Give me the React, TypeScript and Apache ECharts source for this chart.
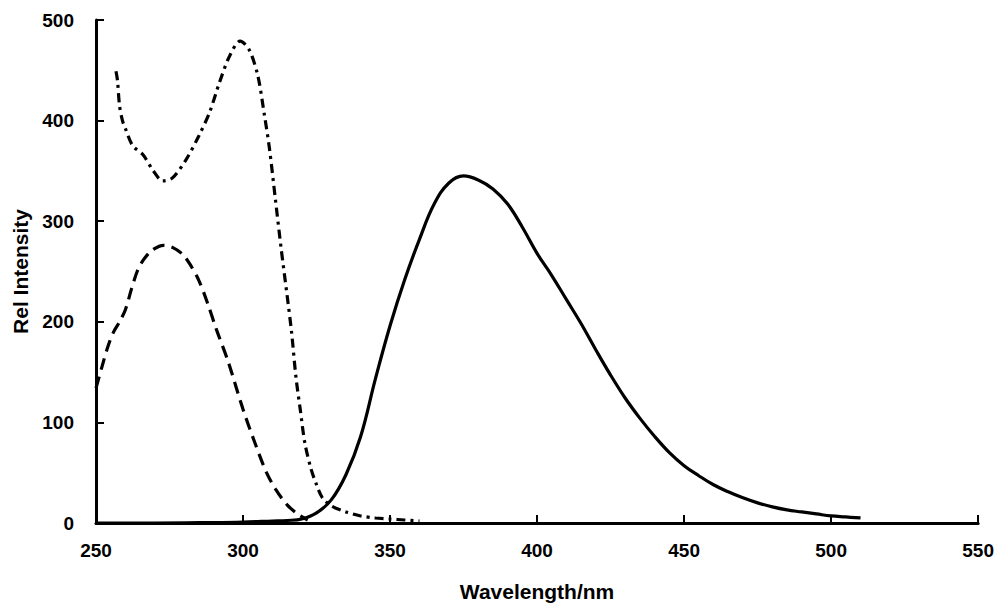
import React, { useEffect, useRef } from "react";
import * as echarts from "echarts";

// Emission (solid)
const solidX = [250, 270, 290, 300, 310, 315, 320, 325, 330, 335, 340, 345, 350, 355, 360, 365, 370, 375, 380, 385, 390, 395, 400, 405, 410, 415, 420, 425, 430, 435, 440, 445, 450, 455, 460, 465, 470, 475, 480, 485, 490, 495, 500, 505, 510];
const solidY = [0, 0, 0.5, 1, 2, 2.5, 4, 10, 23, 48, 86, 143, 196, 242, 282, 317, 338, 345, 341, 332, 317, 294, 268, 246, 222, 198, 172, 147, 124, 104, 86, 70, 57, 47, 38, 31, 25, 20, 16, 13, 11, 9, 7, 6, 5];

// Excitation (long dash)
const dashX = [250, 252, 254, 256, 258, 260, 262, 264, 266, 269, 273, 276, 279.5, 282, 285, 288, 291, 295, 300, 304, 308, 311, 315, 319, 322];
const dashY = [134, 155, 175, 190, 200, 212, 232, 250, 261, 271, 276, 274, 267, 257, 241, 218, 192, 160, 113, 80, 50, 34, 18, 8, 3];

// Excitation (dash-dot)
const dotX = [256.8, 257.3, 258, 259, 260, 262.5, 266, 269.5, 272.7, 276, 280.8, 285, 288.6, 292, 295.4, 299, 302, 305, 307.3, 309, 311, 313, 315, 316.5, 318, 319.5, 321, 323, 325, 327, 330, 335, 340, 345, 350, 355, 360];
const dotY = [449, 440, 415, 400, 392, 375, 366, 350, 340, 343, 362, 385, 408, 438, 464, 479, 471, 445, 405, 372, 322, 272, 226, 190, 145, 112, 80, 55, 38, 25, 17, 11, 7, 5, 4, 3, 2];

const xMin = 250, xMax = 550, xStep = 50;
const yMin = 0, yMax = 500, yStep = 100;

const pairs = (xs: number[], ys: number[]) => xs.map((x, i) => [x, ys[i]]);

export default function App() {
  const ref = useRef<HTMLDivElement>(null);
  useEffect(() => {
    if (!ref.current) return;
    const chart = echarts.init(ref.current, undefined, { renderer: "svg" });
    const font = { fontFamily: "Liberation Sans, Arial, sans-serif", fontWeight: "bold" as const, color: "#000" };
    chart.setOption({
      animation: false,
      backgroundColor: "#fff",
      grid: { left: 96, right: 16, top: 20, bottom: 80 },
      xAxis: {
        type: "value",
        min: xMin,
        max: xMax,
        interval: xStep,
        name: "Wavelength/nm",
        nameLocation: "middle",
        nameGap: 58,
        nameTextStyle: { ...font, fontSize: 21 },
        axisLine: { show: true, onZero: false, lineStyle: { color: "#000", width: 3 } },
        axisTick: { show: true, inside: true, length: 8, lineStyle: { color: "#000", width: 2 } },
        axisLabel: { ...font, fontSize: 19, margin: 18 },
        splitLine: { show: false },
      },
      yAxis: {
        type: "value",
        min: yMin,
        max: yMax,
        interval: yStep,
        name: "Rel Intensity",
        nameLocation: "middle",
        nameGap: 64,
        nameTextStyle: { ...font, fontSize: 21 },
        axisLine: { show: true, lineStyle: { color: "#000", width: 3 } },
        axisTick: { show: true, inside: true, length: 8, lineStyle: { color: "#000", width: 2 } },
        axisLabel: { ...font, fontSize: 19, margin: 22 },
        splitLine: { show: false },
      },
      series: [
        {
          type: "line",
          data: pairs(solidX, solidY),
          smooth: 0.4,
          showSymbol: false,
          lineStyle: { color: "#000", width: 3.2, type: "solid" },
        },
        {
          type: "line",
          data: pairs(dashX, dashY),
          smooth: 0.3,
          showSymbol: false,
          lineStyle: { color: "#000", width: 3.2, type: [12, 7] },
        },
        {
          type: "line",
          data: pairs(dotX, dotY),
          smooth: 0.3,
          showSymbol: false,
          lineStyle: { color: "#000", width: 3.2, type: [9, 5, 3, 5] },
        },
      ],
    });
    return () => chart.dispose();
  }, []);
  return <div ref={ref} style={{ position: "fixed", left: 0, top: 0, width: 997, height: 607 }} />;
}
